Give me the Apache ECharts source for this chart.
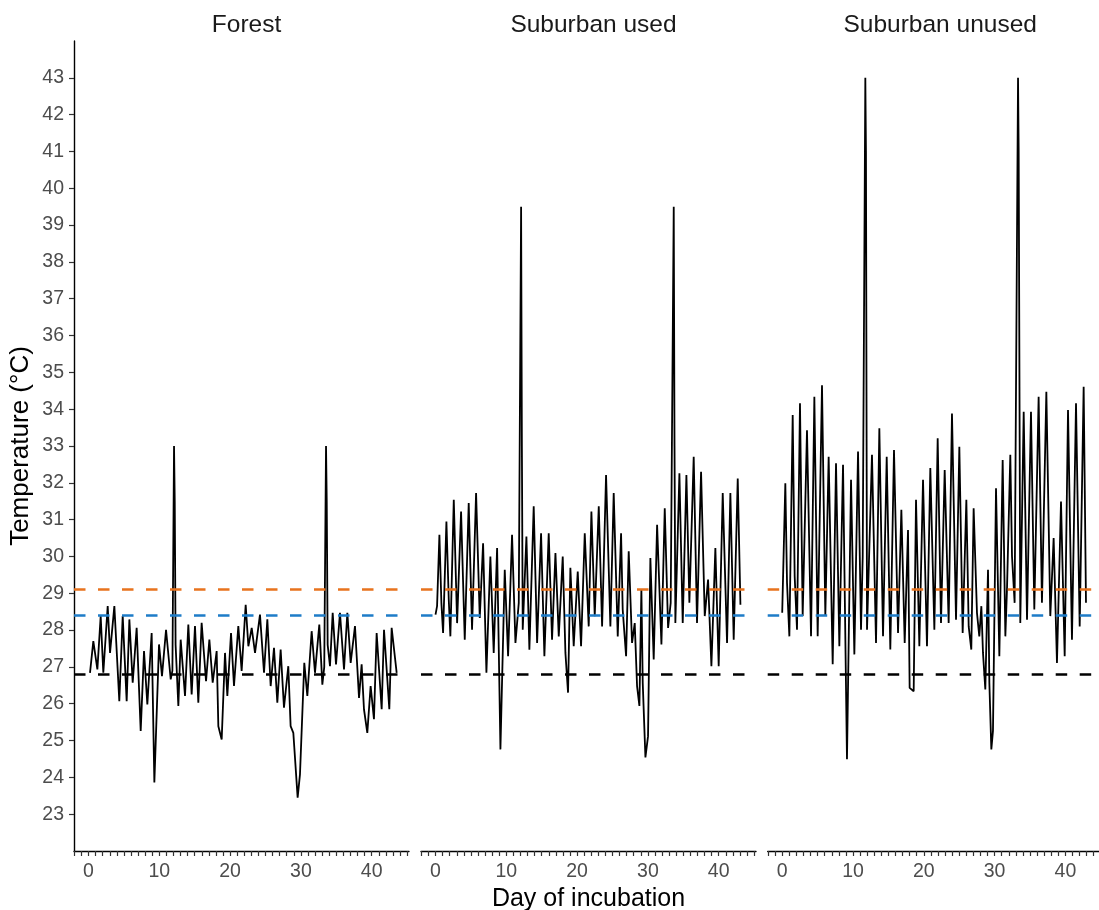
<!DOCTYPE html>
<html><head><meta charset="utf-8">
<script src="https://cdn.jsdelivr.net/npm/echarts@6/dist/echarts.min.js"></script>
<style>html,body{margin:0;padding:0;background:#fff}#c{width:1099px;height:910px}</style>
</head><body><div id="c"></div>
<script>
// ---- data ----
const panelNames = ['Forest', 'Suburban used', 'Suburban unused'];

const forestDay = [0.21,0.68,1.25,1.72,2.09,2.71,3.04,3.65,4.35,4.83,5.39,5.77,6.24,6.80,7.37,7.84,8.31,8.92,9.30,9.96,10.38,10.95,11.61,11.85,12.08,12.18,12.30,12.69,13.02,13.63,14.10,14.57,15.04,15.51,15.98,16.60,17.07,17.54,18.10,18.34,18.81,19.28,19.61,20.13,20.55,21.16,21.63,22.20,22.58,23.05,23.52,24.22,24.79,25.26,25.73,26.20,26.67,27.14,27.61,28.22,28.55,28.93,29.17,29.54,29.87,30.11,30.48,30.91,31.52,31.99,32.60,33.03,33.30,33.55,33.65,33.78,34.11,34.49,34.96,35.52,36.09,36.56,37.03,37.64,38.21,38.58,38.91,39.38,39.85,40.32,40.70,41.41,41.74,42.49,42.82,43.53];
const forestTemp = [26.84,27.70,26.93,28.38,26.84,28.65,27.38,28.65,26.07,28.38,26.07,28.29,26.57,28.06,25.26,27.43,25.98,27.92,23.86,27.61,26.75,28.01,26.66,26.90,33.00,31.49,27.60,25.94,27.74,26.21,28.15,26.25,28.11,26.03,28.20,26.61,27.74,26.57,27.43,25.39,25.03,27.38,26.21,27.92,26.48,28.11,26.89,28.69,27.56,28.06,27.38,28.42,26.84,28.29,26.48,27.52,26.03,27.47,25.89,27.02,25.39,25.21,25.21,23.45,24.08,24.04,27.11,26.21,27.97,26.84,28.15,26.52,27.00,33.00,31.49,27.60,27.02,28.47,27.07,28.47,26.93,28.47,27.11,28.11,26.16,27.07,25.85,25.21,26.48,25.58,27.92,25.85,28.01,25.85,28.06,26.84];

const usedDay = [0.00,0.22,0.55,0.83,1.07,1.54,1.87,2.10,2.58,3.05,3.61,4.13,4.69,5.16,5.73,6.25,6.72,7.19,7.75,8.22,8.70,9.17,9.78,10.25,10.81,11.29,11.76,12.09,12.20,12.32,12.84,13.26,13.87,14.35,14.91,15.38,15.99,16.46,16.94,17.41,17.97,18.35,18.72,19.05,19.52,20.09,20.56,21.08,21.64,22.02,22.49,23.06,23.53,24.09,24.70,25.17,25.74,26.21,26.44,26.92,27.29,27.76,28.14,28.47,28.80,29.08,29.27,29.65,30.02,30.35,30.82,31.30,31.91,32.38,32.85,33.22,33.65,33.76,33.88,34.45,34.92,35.44,35.86,36.47,36.94,37.51,38.03,38.50,38.97,39.53,40.00,40.57,41.18,41.65,42.12,42.69,43.07];
const usedTemp = [28.42,28.65,30.59,28.74,27.92,30.95,28.83,27.83,31.54,28.19,31.22,27.74,31.45,28.01,31.72,28.33,30.36,26.84,30.00,27.38,30.23,24.76,29.64,27.29,30.59,27.65,28.74,39.50,33.00,28.01,30.54,27.47,31.36,27.65,30.63,27.29,30.63,27.74,30.09,27.83,30.00,27.38,26.30,29.69,27.56,29.59,27.56,30.63,28.10,31.22,28.38,31.36,28.10,32.21,28.10,31.72,27.83,30.63,28.56,27.29,30.14,27.65,28.19,26.48,25.94,29.10,26.57,24.54,25.12,29.96,27.20,30.86,27.61,31.31,28.06,28.74,39.50,33.00,28.19,32.26,28.19,32.21,28.74,32.71,28.19,32.30,28.38,29.37,27.02,30.23,27.02,31.72,27.65,31.72,27.74,32.12,28.69];

const unusedDay = [0.00,0.44,0.68,1.01,1.48,1.76,2.09,2.51,2.89,3.50,4.07,4.54,5.01,5.62,6.09,6.56,7.13,7.60,8.07,8.59,9.15,9.72,10.19,10.71,11.13,11.37,11.74,11.83,11.98,12.68,13.25,13.72,14.24,14.76,15.27,15.79,16.36,16.83,17.30,17.77,18.00,18.57,18.90,19.37,19.89,20.45,20.92,21.49,21.96,22.43,22.95,23.51,23.98,24.55,25.02,25.49,26.01,26.34,26.71,27.04,27.51,27.84,28.13,28.36,28.69,29.07,29.26,29.54,29.77,30.20,30.67,31.14,31.52,31.75,32.22,32.46,32.83,33.31,33.40,33.63,34.11,34.58,35.14,35.61,36.22,36.69,37.31,37.87,38.34,38.81,39.38,39.90,40.37,40.93,41.50,42.02,42.58,42.91];
const unusedTemp = [28.47,31.99,29.28,27.83,33.84,29.46,28.01,34.16,28.38,33.43,27.83,34.34,27.83,34.65,28.38,32.71,27.07,32.53,27.56,32.49,24.49,32.08,27.34,32.85,28.01,30.00,43.00,41.00,28.01,32.76,27.65,33.48,27.83,32.71,27.47,32.89,27.92,31.27,27.65,30.72,26.43,26.34,31.54,27.56,32.08,27.56,32.40,28.01,33.21,28.19,32.35,28.19,33.88,28.28,32.98,27.92,31.54,28.10,27.47,31.31,28.47,27.83,28.65,27.38,26.39,29.64,26.57,24.76,25.26,31.85,27.29,32.62,27.83,29.10,32.76,30.00,28.74,43.00,41.00,28.19,33.93,28.28,33.93,28.56,34.34,28.74,34.47,28.38,30.50,27.11,31.49,27.29,33.98,27.74,34.16,28.10,34.61,28.74];

const refValues = [29.1, 28.4, 26.8];
const xTickLabels = [0, 10, 20, 30, 40];
const yTickLabels = [23,24,25,26,27,28,29,30,31,32,33,34,35,36,37,38,39,40,41,42,43];
const xTitle = 'Day of incubation';
const yTitle = 'Temperature (°C)';

// ---- styles / layout ----
const refColors = ['#E8731E', '#1E7CC8', '#000000'];
const FONT = 'Liberation Sans, Arial, sans-serif';
const X_MIN = -2.05, X_MAX = 45.27, Y_MIN = 22, Y_MAX = 44;
const gridLefts = [74, 421, 767.7];
const GRID_W = 335, GRID_TOP = 41, GRID_H = 810;

const dayTicks = [];
for (let d = -2; d <= 45; d++) dayTicks.push(d);

function pairs(xs, ys) { return xs.map((x, i) => [x, ys[i]]); }
const seriesData = [pairs(forestDay, forestTemp), pairs(usedDay, usedTemp), pairs(unusedDay, unusedTemp)];

const grids = [], xAxes = [], yAxes = [], series = [], titles = [];
for (let i = 0; i < 3; i++) {
  grids.push({left: gridLefts[i], top: GRID_TOP, width: GRID_W, height: GRID_H, containLabel: false, outerBoundsMode: 'none'});
  xAxes.push({
    type: 'value', gridIndex: i, min: X_MIN, max: X_MAX,
    name: i === 1 ? xTitle : '', nameLocation: 'middle', nameGap: 35,
    nameTextStyle: {fontSize: 25, color: '#000', fontFamily: FONT},
    axisLine: {show: true, onZero: false, lineStyle: {color: '#000', width: 1.4}},
    axisTick: {show: true, customValues: dayTicks, length: 5, lineStyle: {color: '#333', width: 1.2}},
    axisLabel: {customValues: xTickLabels, fontSize: 19.5, color: '#4d4d4d', margin: 11, fontFamily: FONT},
    splitLine: {show: false}
  });
  yAxes.push({
    type: 'value', gridIndex: i, min: Y_MIN, max: Y_MAX, show: i === 0,
    name: i === 0 ? yTitle : '', nameLocation: 'middle', nameGap: 40, nameRotate: 90,
    nameTextStyle: {fontSize: 26, color: '#000', fontFamily: FONT},
    axisLine: {show: true, onZero: false, lineStyle: {color: '#000', width: 1.4}},
    axisTick: {show: true, customValues: yTickLabels, length: 5, lineStyle: {color: '#333', width: 1.2}},
    axisLabel: {customValues: yTickLabels, fontSize: 19.5, color: '#4d4d4d', margin: 10, fontFamily: FONT},
    splitLine: {show: false}
  });
  titles.push({
    text: panelNames[i], left: gridLefts[i] + GRID_W / 2, top: 8, textAlign: 'center',
    textStyle: {fontSize: 24.5, fontWeight: 'normal', color: '#1a1a1a', fontFamily: FONT}
  });
  series.push({
    type: 'line', xAxisIndex: i, yAxisIndex: i, data: seriesData[i],
    showSymbol: false, symbol: 'none', animation: false, z: 2,
    lineStyle: {color: '#000', width: 1.8},
    markLine: {
      silent: true, symbol: 'none', animation: false, z: 5,
      label: {show: false},
      data: refValues.map((v, k) => ({yAxis: v, lineStyle: {color: refColors[k], width: 2.7, type: [11.5, 12.5]}}))
    }
  });
}

const chart = echarts.init(document.getElementById('c'), null, {renderer: 'canvas'});
chart.setOption({
  animation: false, backgroundColor: '#fff',
  title: titles, grid: grids, xAxis: xAxes, yAxis: yAxes, series: series
});
</script></body></html>
